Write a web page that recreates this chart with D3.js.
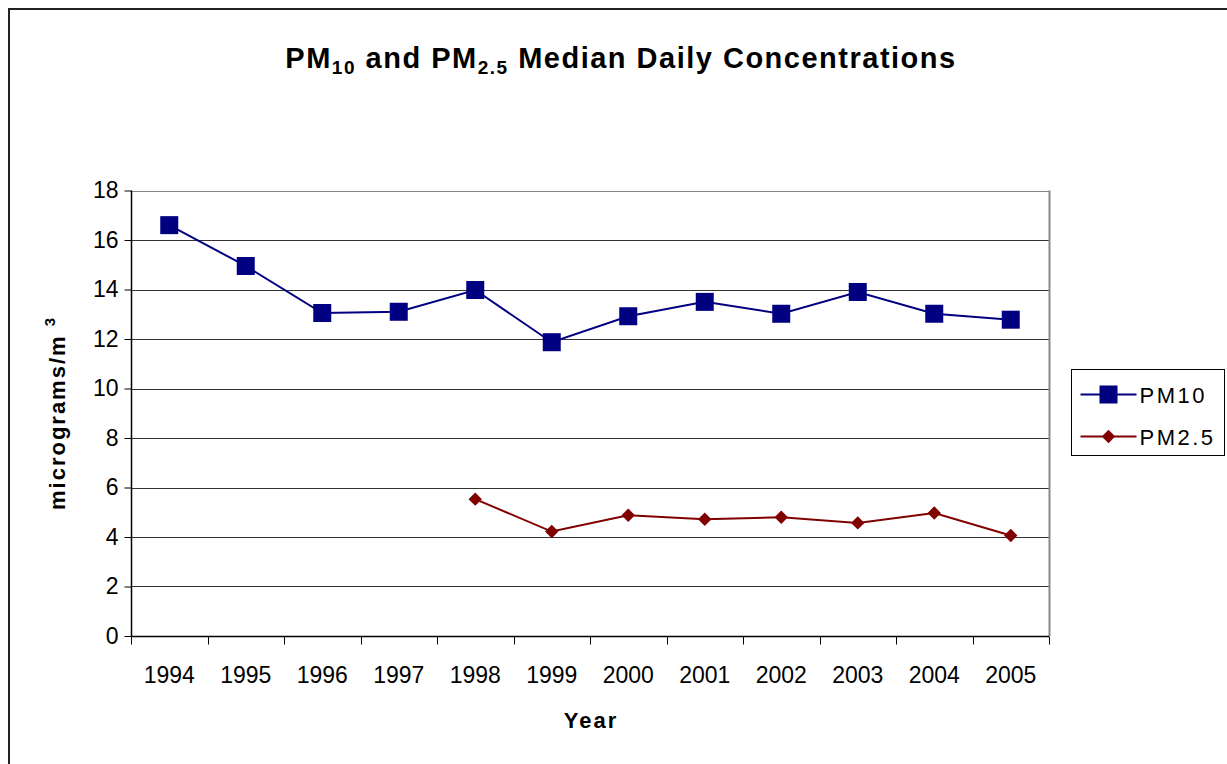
<!DOCTYPE html>
<html>
<head>
<meta charset="utf-8">
<title>PM10 and PM2.5 Median Daily Concentrations</title>
<script src="https://cdn.jsdelivr.net/npm/d3@7"></script>
<style>
    body { margin: 0; background: #fff; }
    svg { display: block; font-family: "Liberation Sans", Arial, sans-serif; }
</style>
</head>
<body>
<svg width="1227" height="764"></svg>
<script>
// data
var years = ["1994", "1995", "1996", "1997", "1998", "1999", "2000", "2001", "2002", "2003", "2004", "2005"];
var pm10 = [16.6, 14.95, 13.05, 13.1, 13.98, 11.87, 12.92, 13.5, 13.02, 13.9, 13.02, 12.78];
var pm25 = [null, null, null, null, 5.53, 4.22, 4.88, 4.72, 4.8, 4.57, 4.97, 4.06];
var yTicks = [0, 2, 4, 6, 8, 10, 12, 14, 16, 18];

var svg = d3.select("svg");

// outer chart border (only top/left visible)
svg.append("path")
    .attr("d", "M9,770 V9 H1240")
    .attr("fill", "none")
    .attr("stroke", "#222")
    .attr("stroke-width", 2);

var plotLeft = 131, plotRight = 1049, plotTop = 190.5, plotBottom = 636;

var x = d3.scaleBand().domain(years).range([plotLeft, plotRight]);
var y = d3.scaleLinear().domain([0, 18]).range([plotBottom, plotTop]);

// gridlines
svg.append("g")
    .selectAll("line")
    .data(yTicks.filter(function(d) { return d > 0; }))
    .enter()
    .append("line")
    .attr("x1", plotLeft).attr("x2", plotRight)
    .attr("y1", function(d) { return Math.round(y(d)) + 0.5; })
    .attr("y2", function(d) { return Math.round(y(d)) + 0.5; })
    .attr("stroke", function(d) { return d === 18 ? "#888" : "#333"; })
    .attr("stroke-width", 1);

// plot border right side (gray)
svg.append("line")
    .attr("x1", plotRight + 0.5).attr("x2", plotRight + 0.5)
    .attr("y1", plotTop).attr("y2", plotBottom)
    .attr("stroke", "#888").attr("stroke-width", 2);

// y axis
var yAxis = d3.axisLeft(y).tickValues(yTicks).tickSize(7).tickPadding(6).tickFormat(d3.format("d"));
var gy = svg.append("g")
    .attr("transform", "translate(" + (plotLeft + 0.5) + ",0)")
    .call(yAxis);
gy.select(".domain").attr("stroke", "#000").attr("stroke-width", 1.5).attr("d", "M0," + plotTop + "V" + plotBottom);
gy.selectAll(".tick line").attr("stroke", "#000");
gy.selectAll("text").attr("font-size", "23px").attr("font-family", "Liberation Sans, Arial").attr("fill", "#000");

// x axis: ticks between categories
var xAxis = d3.axisBottom(x).tickSize(0).tickPadding(30);
var gx = svg.append("g")
    .attr("transform", "translate(0," + (plotBottom + 0.5) + ")")
    .call(xAxis);
gx.select(".domain").attr("stroke", "#000").attr("stroke-width", 1.5).attr("d", "M" + plotLeft + ",0H" + plotRight);
gx.selectAll("text").attr("font-size", "23px").attr("font-family", "Liberation Sans, Arial").attr("fill", "#000");
gx.selectAll(".sep")
    .data(years.concat(["end"]))
    .enter()
    .append("line")
    .attr("class", "sep")
    .attr("x1", function(d, i) { return Math.round(plotLeft + i * x.step()) + 0.5; })
    .attr("x2", function(d, i) { return Math.round(plotLeft + i * x.step()) + 0.5; })
    .attr("y1", 0).attr("y2", 8)
    .attr("stroke", "#000");

// PM10 line
var cx = function(d, i) { return x(years[i]) + x.bandwidth() / 2; };
var line = d3.line()
    .defined(function(d) { return d != null; })
    .x(cx)
    .y(function(d) { return y(d); });

svg.append("path")
    .datum(pm10)
    .attr("d", line)
    .attr("fill", "none")
    .attr("stroke", "#000080")
    .attr("stroke-width", 2);

svg.append("g")
    .selectAll("rect")
    .data(pm10)
    .enter()
    .append("rect")
    .attr("x", function(d, i) { return cx(d, i) - 9; })
    .attr("y", function(d) { return y(d) - 9; })
    .attr("width", 18).attr("height", 18)
    .attr("fill", "#000080");

// PM2.5 line
svg.append("path")
    .datum(pm25)
    .attr("d", line)
    .attr("fill", "none")
    .attr("stroke", "#800000")
    .attr("stroke-width", 2);

var diamond = d3.symbol().type(d3.symbolSquare).size(90);
svg.append("g")
    .selectAll("path")
    .data(pm25.map(function(d, i) { return {v: d, i: i}; }).filter(function(d) { return d.v != null; }))
    .enter()
    .append("path")
    .attr("d", diamond)
    .attr("transform", function(d) { return "translate(" + cx(d.v, d.i) + "," + y(d.v) + ") rotate(45)"; })
    .attr("fill", "#800000");

// title
var title = svg.append("text")
    .attr("x", 621).attr("y", 68)
    .attr("text-anchor", "middle")
    .attr("font-size", "29px")
    .attr("font-weight", "bold")
    .attr("letter-spacing", "1.5px");
title.append("tspan").text("PM");
title.append("tspan").attr("font-size", "19px").attr("dy", 6).text("10");
title.append("tspan").attr("dy", -6).text(" and PM");
title.append("tspan").attr("font-size", "19px").attr("dy", 6).text("2.5");
title.append("tspan").attr("dy", -6).text(" Median Daily Concentrations");

// axis titles
svg.append("text")
    .attr("x", 591).attr("y", 728)
    .attr("text-anchor", "middle")
    .attr("font-size", "22px")
    .attr("font-weight", "bold")
    .attr("letter-spacing", "2px")
    .text("Year");

var ylab = svg.append("text")
    .attr("transform", "translate(65,413) rotate(-90)")
    .attr("text-anchor", "middle")
    .attr("font-size", "22px")
    .attr("font-weight", "bold")
    .attr("letter-spacing", "2px");
ylab.append("tspan").text("micrograms/m ");
ylab.append("tspan").attr("font-size", "15px").attr("dy", -10).text("3");

// legend
var lg = svg.append("g").attr("transform", "translate(1071.5,369.5)");
lg.append("rect")
    .attr("width", 153).attr("height", 86)
    .attr("fill", "#fff").attr("stroke", "#000").attr("stroke-width", 1);
var items = [
    {name: "PM10", color: "#000080", shape: "square"},
    {name: "PM2.5", color: "#800000", shape: "diamond"}
];
items.forEach(function(it, i) {
    var yy = 25 + i * 42;
    lg.append("line").attr("x1", 9).attr("x2", 65).attr("y1", yy).attr("y2", yy)
        .attr("stroke", it.color).attr("stroke-width", 2);
    if (it.shape === "square") {
        lg.append("rect").attr("x", 28).attr("y", yy - 9).attr("width", 18).attr("height", 18).attr("fill", it.color);
    } else {
        lg.append("path").attr("d", diamond).attr("transform", "translate(37," + yy + ") rotate(45)").attr("fill", it.color);
    }
    lg.append("text").attr("x", 68).attr("y", yy + 8)
        .attr("font-size", "22px").attr("letter-spacing", "2.5px")
        .text(it.name);
});
</script>
</body>
</html>
